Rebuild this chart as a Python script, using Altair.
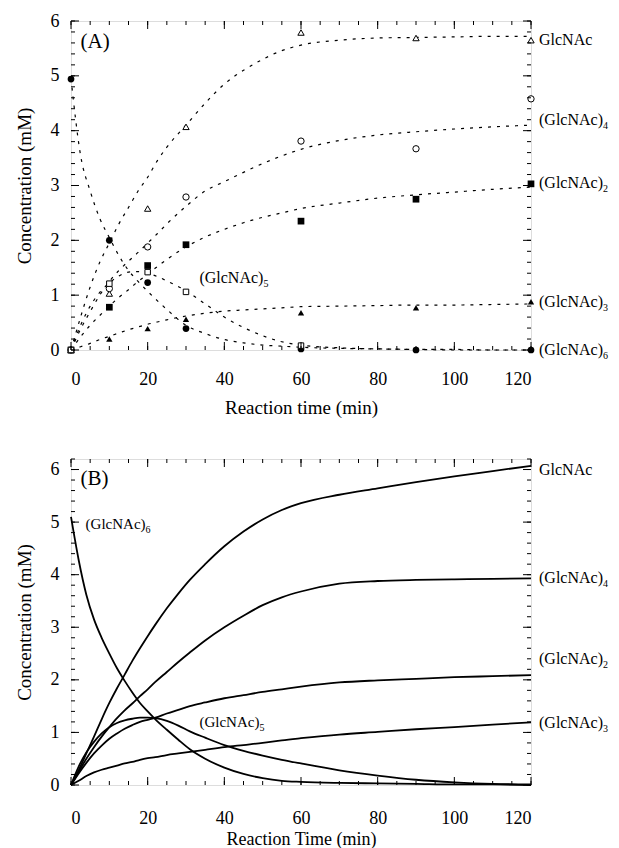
import altair as alt
import pandas as pd

FONT = "Liberation Serif"

# ---------------- Panel A: measured points ----------------
tA = [0, 10, 20, 30, 60, 90, 120]
A_glcnac = [0.0, 1.03, 2.58, 4.07, 5.79, 5.69, 5.65]
A_g4 = [0.0, 1.12, 1.88, 2.79, 3.81, 3.67, 4.58]
A_g2 = [0.0, 0.78, 1.54, 1.92, 2.35, 2.75, 3.03]
A_g3 = [0.0, 0.20, 0.39, 0.56, 0.68, 0.77, 0.88]
A_g6 = [4.94, 2.00, 1.23, 0.39, 0.02, 0.0, 0.0]
tA5 = [0, 10, 20, 30, 60]
A_g5 = [0.0, 1.21, 1.42, 1.06, 0.08]

# ---------------- Panel A: fitted (dashed) curves ----------------
tAf = [0, 2.5, 5, 7.5, 10, 12.5, 15, 17.5, 20, 22.5, 25, 30, 35, 40, 45, 50, 55, 60, 70, 80, 90, 100, 110, 120]
Af_glcnac = [0, 0.6, 1.15, 1.6, 1.95, 2.3, 2.6, 2.9, 3.15, 3.45, 3.7, 4.1, 4.5, 4.85, 5.1, 5.3, 5.46, 5.56, 5.65, 5.69, 5.7, 5.71, 5.72, 5.72]
Af_g4 = [0, 0.38, 0.7, 1.0, 1.25, 1.45, 1.62, 1.78, 1.95, 2.12, 2.3, 2.62, 2.9, 3.07, 3.24, 3.4, 3.54, 3.66, 3.82, 3.92, 3.98, 4.03, 4.07, 4.1]
Af_g2 = [0, 0.24, 0.45, 0.63, 0.8, 0.96, 1.1, 1.25, 1.38, 1.52, 1.65, 1.88, 2.06, 2.2, 2.32, 2.42, 2.5, 2.58, 2.68, 2.77, 2.83, 2.88, 2.93, 2.97]
Af_g3 = [0, 0.06, 0.12, 0.19, 0.25, 0.31, 0.37, 0.42, 0.47, 0.51, 0.55, 0.62, 0.67, 0.71, 0.73, 0.75, 0.77, 0.79, 0.8, 0.81, 0.82, 0.82, 0.83, 0.84]
Af_g5 = [0, 0.45, 0.8, 1.05, 1.22, 1.35, 1.42, 1.43, 1.4, 1.34, 1.26, 1.08, 0.84, 0.6, 0.41, 0.26, 0.15, 0.09, 0.04, 0.02, 0.01, 0.0, 0.0, 0.0]
Af_g6 = [4.95, 3.55, 2.9, 2.4, 2.05, 1.72, 1.45, 1.25, 1.07, 0.9, 0.74, 0.45, 0.3, 0.19, 0.13, 0.09, 0.07, 0.05, 0.03, 0.02, 0.01, 0.01, 0.0, 0.0]

# ---------------- Panel B: simulated curves ----------------
tB = [0, 2, 4, 6, 8, 10, 12, 14, 16, 18, 20, 22, 25, 28, 31, 35, 40, 45, 50, 55, 60, 70, 80, 90, 100, 110, 120]
B_glcnac = [0, 0.28, 0.6, 0.92, 1.25, 1.56, 1.84, 2.1, 2.36, 2.6, 2.83, 3.05, 3.36, 3.64, 3.9, 4.2, 4.54, 4.82, 5.05, 5.23, 5.36, 5.52, 5.64, 5.76, 5.87, 5.97, 6.07]
B_g4 = [0, 0.25, 0.5, 0.72, 0.92, 1.1, 1.27, 1.42, 1.55, 1.69, 1.82, 1.96, 2.15, 2.34, 2.52, 2.75, 3.0, 3.22, 3.42, 3.57, 3.68, 3.83, 3.88, 3.9, 3.91, 3.92, 3.93]
B_g2 = [0, 0.22, 0.42, 0.6, 0.75, 0.88, 0.98, 1.07, 1.14, 1.2, 1.24, 1.28, 1.36, 1.43, 1.5, 1.57, 1.65, 1.71, 1.77, 1.82, 1.87, 1.95, 1.99, 2.02, 2.05, 2.07, 2.09]
B_g5 = [0, 0.35, 0.62, 0.82, 0.98, 1.1, 1.18, 1.23, 1.26, 1.28, 1.28, 1.27, 1.22, 1.13, 1.02, 0.9, 0.76, 0.65, 0.56, 0.48, 0.41, 0.28, 0.18, 0.1, 0.05, 0.02, 0.01]
B_g3 = [0, 0.08, 0.17, 0.24, 0.29, 0.33, 0.37, 0.41, 0.44, 0.48, 0.51, 0.53, 0.57, 0.6, 0.63, 0.67, 0.72, 0.76, 0.8, 0.85, 0.89, 0.96, 1.01, 1.06, 1.1, 1.15, 1.19]
B_g6 = [5.1, 4.28, 3.62, 3.15, 2.8, 2.5, 2.22, 1.98, 1.76, 1.56, 1.4, 1.25, 1.05, 0.86, 0.68, 0.5, 0.33, 0.21, 0.13, 0.08, 0.06, 0.04, 0.03, 0.02, 0.01, 0.01, 0.0]

# ---------------- Labels ----------------
A_lab_text = ["GlcNAc", "(GlcNAc)", "(GlcNAc)", "(GlcNAc)", "(GlcNAc)"]
A_lab_sub = ["", "4", "2", "3", "6"]
A_lab_y = [5.65, 4.2, 3.05, 0.88, 0.0]
A_in_text = ["(GlcNAc)"]
A_in_sub = ["5"]
A_in_x = [33.5]
A_in_y = [1.32]

B_lab_text = ["GlcNAc", "(GlcNAc)", "(GlcNAc)", "(GlcNAc)"]
B_lab_sub = ["", "4", "2", "3"]
B_lab_y = [6.0, 3.93, 2.4, 1.17]
B_in_text = ["(GlcNAc)", "(GlcNAc)"]
B_in_sub = ["6", "5"]
B_in_x = [3.8, 33.5]
B_in_y = [4.96, 1.2]

x_ticks = [0, 20, 40, 60, 80, 100, 120]
x_minor = list(range(0, 121, 5))
y_ticks = [0, 1, 2, 3, 4, 5, 6]

W = 460
HA = 329
HB = 326

xscale = alt.Scale(domain=[0, 120], nice=False, zero=False)
yscaleA = alt.Scale(domain=[0, 6], nice=False)
yscaleB = alt.Scale(domain=[0, 6.2], nice=False)


def xaxis(title, lp, tp, tsize):
    return alt.Axis(values=x_ticks, title=title, ticks=False, domain=False, grid=False,
                    labelFont=FONT, labelFontSize=18, labelPadding=lp,
                    titleFont=FONT, titleFontSize=tsize, titleFontWeight="normal",
                    titlePadding=tp, labelColor="black", titleColor="black")


def yaxis(title):
    return alt.Axis(values=y_ticks, title=title, ticks=False, domain=False, grid=False,
                    labelFont=FONT, labelFontSize=18, labelPadding=12,
                    titleFont=FONT, titleFontSize=19, titleFontWeight="normal",
                    titlePadding=16, labelColor="black", titleColor="black")


def frame_ticks(yscale, H, ymax, XA, YA):
    layers = []
    xmaj = pd.DataFrame({"v": x_ticks})
    xmin = pd.DataFrame({"v": x_minor})
    ymin_vals = [round(i * 0.2, 2) for i in range(int(round(ymax / 0.2)) + 1)]
    ymaj = pd.DataFrame({"v": y_ticks})
    ymn = pd.DataFrame({"v": ymin_vals})
    for df, ln in ((xmaj, 8), (xmin, 4)):
        X = alt.X("v:Q", scale=xscale, axis=XA)
        layers.append(alt.Chart(df).mark_rule(color="black", strokeWidth=1).encode(
            x=X, y=alt.value(H), y2=alt.value(H - ln)))
        layers.append(alt.Chart(df).mark_rule(color="black", strokeWidth=1).encode(
            x=X, y=alt.value(0), y2=alt.value(ln)))
    for df, ln in ((ymaj, 8), (ymn, 4)):
        Y = alt.Y("v:Q", scale=yscale, axis=YA)
        layers.append(alt.Chart(df).mark_rule(color="black", strokeWidth=1).encode(
            y=Y, x=alt.value(0), x2=alt.value(ln)))
        layers.append(alt.Chart(df).mark_rule(color="black", strokeWidth=1).encode(
            y=Y, x=alt.value(W), x2=alt.value(W - ln)))
    return layers


def labels(texts, subs, xs, ys, yscale, dx, XA, YA, size=16, subdx=64):
    df = pd.DataFrame({"t": texts, "s": subs, "x": xs, "y": ys})
    X = alt.X("x:Q", scale=xscale, axis=XA)
    Y = alt.Y("y:Q", scale=yscale, axis=YA)
    main = alt.Chart(df).mark_text(align="left", baseline="middle", font=FONT,
                                   fontSize=size, dx=dx, color="black").encode(
        x=X, y=Y, text="t:N")
    sub = alt.Chart(df).mark_text(align="left", baseline="middle", font=FONT,
                                  fontSize=10, dx=dx + subdx, dy=6, color="black").encode(
        x=X, y=Y, text="s:N")
    return [main, sub]


# ---------------- Build panel A ----------------
XA_A = xaxis("Reaction time (min)", 20, 10, 19)
YA_A = yaxis("Concentration (mM)")

fitA = pd.DataFrame({"t": tAf * 6,
                     "c": Af_glcnac + Af_g4 + Af_g2 + Af_g3 + Af_g5 + Af_g6,
                     "s": sum([[n] * len(tAf) for n in ["G1", "G4", "G2", "G3", "G5", "G6"]], [])})
baseA = alt.Chart(fitA).mark_line(color="black", strokeWidth=1.2, strokeDash=[3, 6],
                                  interpolate="monotone").encode(
    x=alt.X("t:Q", scale=xscale, axis=XA_A),
    y=alt.Y("c:Q", scale=yscaleA, axis=YA_A),
    detail="s:N")

pt_specs = [
    (tA, A_glcnac, "triangle-up", False, 40),
    (tA, A_g4, "circle", False, 40),
    (tA, A_g2, "square", True, 45),
    (tA, A_g3, "triangle-up", True, 40),
    (tA, A_g6, "circle", True, 45),
    (tA5, A_g5, "square", False, 30),
]
pts = []
for ts, vs, shape, filled, size in pt_specs:
    df = pd.DataFrame({"t": ts, "c": vs})
    pts.append(alt.Chart(df).mark_point(shape=shape, filled=filled, size=size,
                                        color="black", strokeWidth=1, opacity=1,
                                        fill="black" if filled else "white").encode(
        x=alt.X("t:Q", scale=xscale, axis=XA_A), y=alt.Y("c:Q", scale=yscaleA, axis=YA_A)))

tagA = alt.Chart(pd.DataFrame({"t": ["(A)"], "x": [2.5], "y": [5.62]})).mark_text(
    align="left", baseline="middle", font=FONT, fontSize=21, color="black").encode(
    x=alt.X("x:Q", scale=xscale, axis=XA_A), y=alt.Y("y:Q", scale=yscaleA, axis=YA_A), text="t:N")

panelA = alt.layer(
    baseA, *pts,
    *labels(A_lab_text, A_lab_sub, [120] * len(A_lab_text), A_lab_y, yscaleA, 8, XA_A, YA_A),
    *labels(A_in_text, A_in_sub, A_in_x, A_in_y, yscaleA, 0, XA_A, YA_A),
    tagA,
    *frame_ticks(yscaleA, HA, 6, XA_A, YA_A),
).properties(width=W, height=HA)

# ---------------- Build panel B ----------------
XA_B = xaxis("Reaction Time (min)", 24, 3, 18)
YA_B = yaxis("Concentration (mM)")

fitB = pd.DataFrame({"t": tB * 6,
                     "c": B_glcnac + B_g4 + B_g2 + B_g3 + B_g5 + B_g6,
                     "s": sum([[n] * len(tB) for n in ["G1", "G4", "G2", "G3", "G5", "G6"]], [])})
baseB = alt.Chart(fitB).mark_line(color="black", strokeWidth=1.8, interpolate="monotone").encode(
    x=alt.X("t:Q", scale=xscale, axis=XA_B),
    y=alt.Y("c:Q", scale=yscaleB, axis=YA_B),
    detail="s:N")

tagB = alt.Chart(pd.DataFrame({"t": ["(B)"], "x": [2.5], "y": [5.82]})).mark_text(
    align="left", baseline="middle", font=FONT, fontSize=21, color="black").encode(
    x=alt.X("x:Q", scale=xscale, axis=XA_B), y=alt.Y("y:Q", scale=yscaleB, axis=YA_B), text="t:N")

panelB = alt.layer(
    baseB,
    *labels(B_lab_text, B_lab_sub, [120] * len(B_lab_text), B_lab_y, yscaleB, 8, XA_B, YA_B),
    *labels(B_in_text, B_in_sub, B_in_x, B_in_y, yscaleB, 0, XA_B, YA_B, size=15, subdx=60),
    tagB,
    *frame_ticks(yscaleB, HB, 6.2, XA_B, YA_B),
).properties(width=W, height=HB)

chart = alt.vconcat(panelA, panelB, spacing=40).properties(
    padding={"left": 14, "top": 11, "right": 0, "bottom": 0}
).configure_view(stroke="black", strokeWidth=1.5).configure(background="white")

chart.save("out.html", embed_options={"renderer": "svg", "actions": False})
